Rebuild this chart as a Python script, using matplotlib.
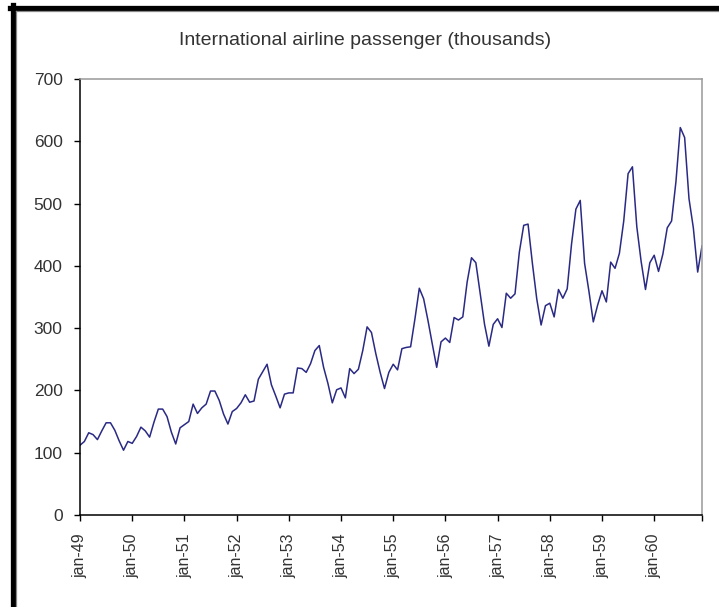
import matplotlib
matplotlib.use("Agg")
import matplotlib.pyplot as plt
from matplotlib.lines import Line2D

# monthly passengers (thousands), jan-49 .. dec-60
y1949 = [112, 118, 132, 129, 121, 135, 148, 148, 136, 119, 104, 118]
y1950 = [115, 126, 141, 135, 125, 149, 170, 170, 158, 133, 114, 140]
y1951 = [145, 150, 178, 163, 172, 178, 199, 199, 184, 162, 146, 166]
y1952 = [171, 180, 193, 181, 183, 218, 230, 242, 209, 191, 172, 194]
y1953 = [196, 196, 236, 235, 229, 243, 264, 272, 237, 211, 180, 201]
y1954 = [204, 188, 235, 227, 234, 264, 302, 293, 259, 229, 203, 229]
y1955 = [242, 233, 267, 269, 270, 315, 364, 347, 312, 274, 237, 278]
y1956 = [284, 277, 317, 313, 318, 374, 413, 405, 355, 306, 271, 306]
y1957 = [315, 301, 356, 348, 355, 422, 465, 467, 404, 347, 305, 336]
y1958 = [340, 318, 362, 348, 363, 435, 491, 505, 404, 359, 310, 337]
y1959 = [360, 342, 406, 396, 420, 472, 548, 559, 463, 407, 362, 405]
y1960 = [417, 391, 419, 461, 472, 535, 622, 606, 508, 461, 390, 432]

years = [y1949, y1950, y1951, y1952, y1953, y1954,
         y1955, y1956, y1957, y1958, y1959, y1960]
year_labels = ["jan-49", "jan-50", "jan-51", "jan-52", "jan-53", "jan-54",
               "jan-55", "jan-56", "jan-57", "jan-58", "jan-59", "jan-60"]

passengers = [v for yr in years for v in yr]
months = list(range(len(passengers)))

plt.rcParams["font.family"] = ["Liberation Sans", "DejaVu Sans"]

fig = plt.figure(figsize=(7.19, 6.07), dpi=100)
ax = fig.add_axes([0.1113, 0.1516, 0.8651, 0.7183])

ax.plot(months, passengers, color="#2a2a85", lw=1.1)

ax.set_xlim(0, len(passengers) - 1)
ax.set_ylim(0, 700)
ax.set_yticks(range(0, 701, 100))

# labelled tick every january, plus a bare tick closing the axis
xt = list(range(0, len(passengers), 12)) + [len(passengers) - 1]
ax.set_xticks(xt)
ax.set_xticklabels(year_labels + [""], rotation=90)

ax.tick_params(axis="both", direction="out", length=4.5, width=1,
               colors="black", labelcolor="#333333")
ax.tick_params(axis="x", pad=9, labelsize=11.5)
ax.tick_params(axis="y", pad=8, labelsize=12.5)

ax.spines["left"].set_color("black")
ax.spines["bottom"].set_color("black")
ax.spines["top"].set_color("#999999")
ax.spines["right"].set_color("#999999")
for s in ax.spines.values():
    s.set_linewidth(1.1)

fig.text(0.508, 0.934, "International airline passenger (thousands)",
         ha="center", va="center", fontsize=14, color="#333333")

# window frame: thick black edge with thin grey inner line
W, H = 719.0, 607.0
fig.add_artist(Line2D([10 / W, 1], [1 - 7.5 / H] * 2, color="black", lw=3.8))
fig.add_artist(Line2D([12.5 / W] * 2, [0, 1 - 5 / H], color="black", lw=3.8))
fig.add_artist(Line2D([15.5 / W, 1], [1 - 10.8 / H] * 2, color="#888888", lw=0.9))
fig.add_artist(Line2D([15.8 / W] * 2, [0, 1 - 10.5 / H], color="#888888", lw=0.9))

fig.savefig("out.png", dpi=100)
